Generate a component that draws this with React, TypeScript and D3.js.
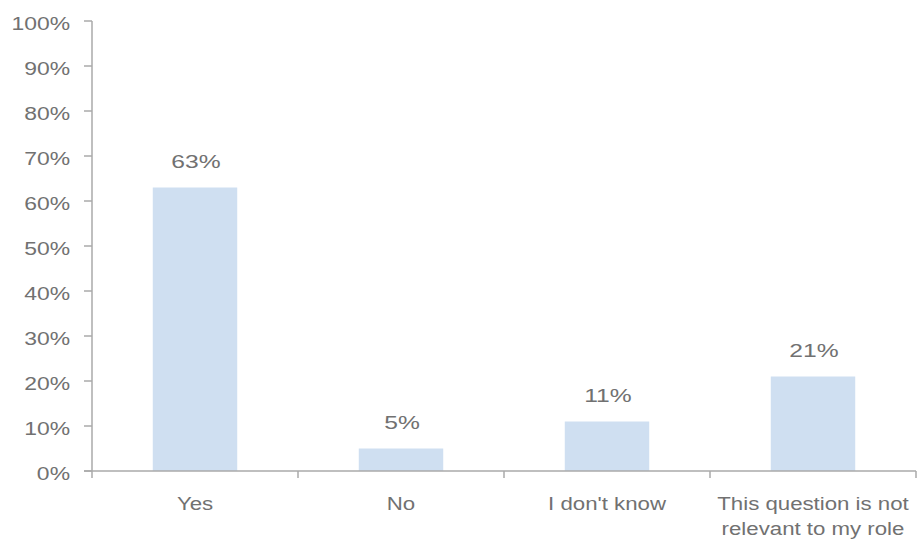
import React from "react";
import * as d3 from "d3";

const categories: string[][] = [["Yes"], ["No"], ["I don't know"], ["This question is not", "relevant to my role"]];
const values: number[] = [63, 5, 11, 21];
const yTicks: number[] = [0, 10, 20, 30, 40, 50, 60, 70, 80, 90, 100];

const W = 919, H = 543;
const left = 92, right = 916, top = 21, bottom = 471;

const font = "'Liberation Sans', Helvetica, Arial, sans-serif";
const textColor = "#717171";

function SText(props: { x: number; y: number; size: number; sx: number; anchor: string; children: React.ReactNode }) {
  return (
    <text
      transform={`translate(${props.x},${props.y}) scale(${props.sx},1)`}
      textAnchor={props.anchor}
      fontSize={props.size}
      fill={textColor}
      fontFamily={font}
    >
      {props.children}
    </text>
  );
}

export default function App() {
  const x = d3.scaleBand<number>().domain(d3.range(values.length)).range([left, right]).paddingInner(0.59).paddingOuter(0.295);
  const band = d3.scaleBand<number>().domain(d3.range(values.length)).range([left, right]);
  const y = d3.scaleLinear().domain([0, 100]).range([bottom, top]);
  const axisColor = "#aaaaaa";
  return (
    <svg width={W} height={H} style={{ position: "absolute", left: 0, top: 0 }}>
      <rect width={W} height={H} fill="#fff" />
      {values.map((v, i) => (
        <g key={i}>
          <rect x={x(i)} y={y(v)} width={x.bandwidth()} height={bottom - y(v)} fill="#cfdff1" />
          <SText x={x(i)! + x.bandwidth() / 2 + 1} y={y(v) - 20} size={18} sx={1.37} anchor="middle">{v}%</SText>
        </g>
      ))}
      <line x1={left} x2={left} y1={top} y2={bottom} stroke={axisColor} strokeWidth={1.5} />
      <line x1={left - 8} x2={right} y1={bottom} y2={bottom} stroke={axisColor} strokeWidth={1.5} />
      {yTicks.map((t) => (
        <g key={t}>
          <line x1={left - 8} x2={left} y1={y(t)} y2={y(t)} stroke={axisColor} strokeWidth={1.5} />
          <SText x={70} y={y(t) + 9} size={17.5} sx={1.31} anchor="end">{t}%</SText>
        </g>
      ))}
      {d3.range(values.length + 1).map((i) => {
        const px = i < values.length ? band(i)! : right;
        return <line key={i} x1={px} x2={px} y1={bottom} y2={bottom + 7} stroke={axisColor} strokeWidth={1.5} />;
      })}
      {categories.map((lines, i) =>
        lines.map((l, j) => (
          <SText key={`${i}-${j}`} x={band(i)! + band.bandwidth() / 2} y={510 + j * 25} size={17.5} sx={1.27} anchor="middle">{l}</SText>
        ))
      )}
    </svg>
  );
}
